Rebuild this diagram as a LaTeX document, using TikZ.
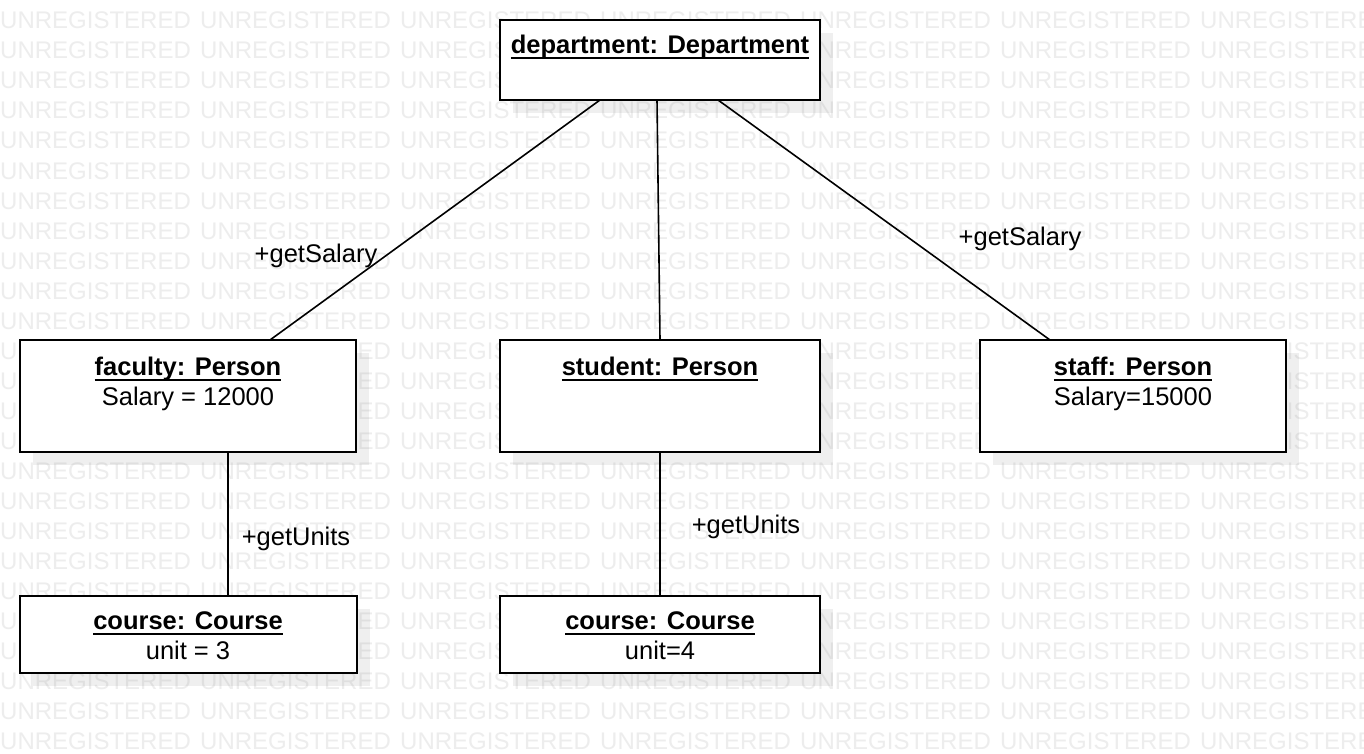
\documentclass[tikz,border=0pt]{standalone}
\usepackage{fontspec}
\setmainfont{Liberation Sans}
\usetikzlibrary{positioning}
\usetikzlibrary{shadows}

\newcommand{\objul}[1]{\setbox0\hbox{#1}\rlap{\rule[-5.5pt]{\wd0}{2pt}}\box0}

\tikzset{
  obj/.style={draw, line width=2pt, fill=white, inner sep=0pt, outer sep=0pt,
    drop shadow={shadow xshift=13pt, shadow yshift=-13pt, fill=black!50, opacity=.12}},
  objname/.style={font=\bfseries\fontsize{25.5}{30}\selectfont, anchor=base, inner sep=0pt},
  objattr/.style={font=\fontsize{25.5}{30}\selectfont, anchor=base, inner sep=0pt},
  link/.style={line width=1.6pt},
  msg/.style={font=\fontsize{25.5}{30}\selectfont, anchor=base, inner sep=0pt},
  watermark/.style={font=\fontsize{24}{28}\selectfont, text=black!7, anchor=base west, inner sep=0pt}
}

\begin{document}
\begin{tikzpicture}[x=1pt,y=-1pt]
\useasboundingbox[fill=white] (0,0) rectangle (1364,754);

% watermark
\foreach \r in {-1,...,24}
  \foreach \c in {0,...,6}
    \node[watermark] (wm-\r-\c) at (\c*200, 29+\r*30) {UNREGISTERED};

% boxes
\node[obj, anchor=north west, minimum width=336pt, minimum height=112pt] (faculty) at (20,340) {};
\node[obj, right=144pt of faculty, minimum width=320pt, minimum height=112pt] (student) {};
\node[obj, right=160pt of student, minimum width=306pt, minimum height=112pt] (staff) {};
\node[obj, above=240pt of student, minimum width=320pt, minimum height=80pt] (dept) {};
\node[obj, below=144pt of faculty, minimum width=337pt, minimum height=77pt] (course1) {};
\node[obj, below=144pt of student, minimum width=320pt, minimum height=77pt] (course2) {};

% texts
\node[objname] (deptname) at ([yshift=-34pt]dept.north) {\objul{department: Department}};
\node[objname] (facultyname) at ([yshift=-35pt]faculty.north) {\objul{faculty: Person}};
\node[objattr] (facultysal) at ([yshift=-30pt]facultyname.base) {Salary = 12000};
\node[objname] (studentname) at ([yshift=-35pt]student.north) {\objul{student: Person}};
\node[objname] (staffname) at ([yshift=-35pt]staff.north) {\objul{staff: Person}};
\node[objattr] (staffsal) at ([yshift=-30pt]staffname.base) {Salary=15000};
\node[objname] (course1name) at ([yshift=-33pt]course1.north) {\objul{course: Course}};
\node[objattr] (course1unit) at ([yshift=-30pt]course1name.base) {unit = 3};
\node[objname] (course2name) at ([yshift=-33pt]course2.north) {\objul{course: Course}};
\node[objattr] (course2unit) at ([yshift=-30pt]course2name.base) {unit=4};

% links
\draw[link] ([xshift=-60pt]dept.south) -- ([xshift=82pt]faculty.north);
\draw[link] ([xshift=-3pt]dept.south) -- (student.north);
\draw[link] ([xshift=58pt]dept.south) -- ([xshift=-83pt]staff.north);
\draw[link] ([xshift=40pt]faculty.south) -- ([xshift=40pt]faculty.south |- course1.north);
\draw[link] (student.south) -- (course2.north);

% messages
\node[msg] (msg1) at (316,262) {+getSalary};
\node[msg] (msg2) at (1020,245) {+getSalary};
\node[msg] (msg3) at (296,545) {+getUnits};
\node[msg] (msg4) at (746,533) {+getUnits};
\end{tikzpicture}
\end{document}
